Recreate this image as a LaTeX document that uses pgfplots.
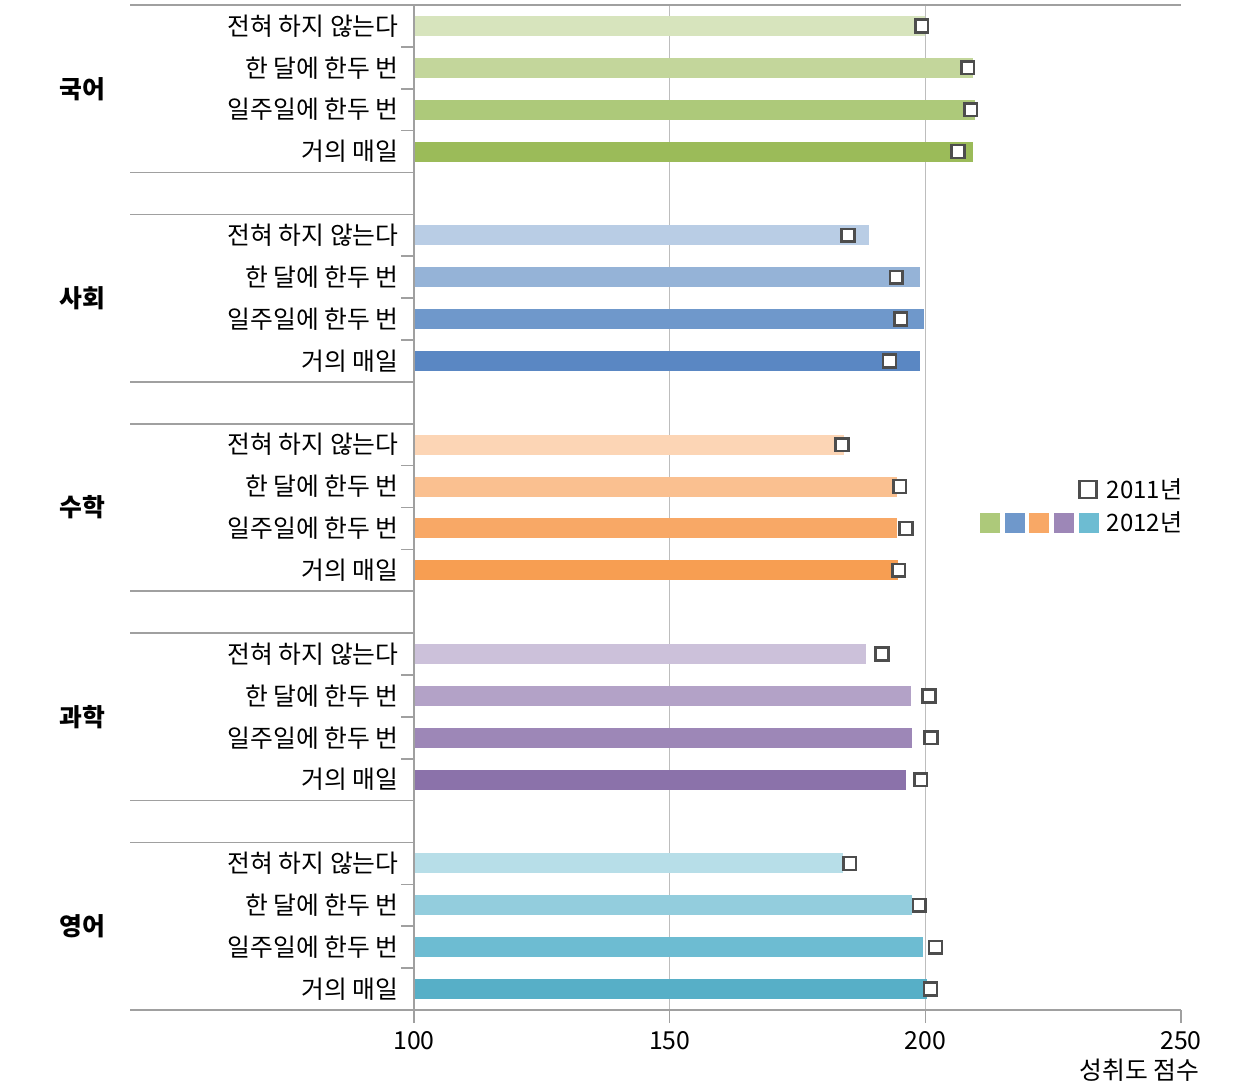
\documentclass[border=0pt]{standalone}
\usepackage{fontspec}
\setmainfont{Noto Sans CJK KR}
\usepackage{pgfplots}
\pgfplotsset{compat=1.18}
\definecolor{gA}{HTML}{D7E4BD}\definecolor{gB}{HTML}{C3D69B}\definecolor{gC}{HTML}{ADC97A}\definecolor{gD}{HTML}{9BBB59}
\definecolor{bA}{HTML}{B9CDE5}\definecolor{bB}{HTML}{95B3D7}\definecolor{bC}{HTML}{6F98CB}\definecolor{bD}{HTML}{5A87C3}
\definecolor{oA}{HTML}{FCD5B5}\definecolor{oB}{HTML}{FAC090}\definecolor{oC}{HTML}{F8A866}\definecolor{oD}{HTML}{F79E52}
\definecolor{pA}{HTML}{CCC1DA}\definecolor{pB}{HTML}{B3A2C7}\definecolor{pC}{HTML}{9D87B7}\definecolor{pD}{HTML}{8B72AA}
\definecolor{aA}{HTML}{B7DEE8}\definecolor{aB}{HTML}{93CDDD}\definecolor{aC}{HTML}{6DBCD2}\definecolor{aD}{HTML}{57AFC7}
\definecolor{linegray}{HTML}{A0A0A0}
\definecolor{gridgray}{HTML}{BDBDBD}
\definecolor{markgray}{HTML}{4D4D4D}
\begin{document}
\fontsize{12.4}{14.8}\selectfont
\begin{tikzpicture}
\begin{axis}[
  name=ax,
  width=383.5pt, height=502.5pt, scale only axis,
  xmin=100, xmax=250, ymin=-0.5, ymax=23.5, y dir=reverse,
  clip mode=individual,
  axis line style={draw=none},
  xtick={100,150,200,250},
  ytick={0.5,1.5,2.5,5.5,6.5,7.5,10.5,11.5,12.5,15.5,16.5,17.5,20.5,21.5,22.5},
  yticklabels={\empty},
  extra y ticks={0,1,2,3,5,6,7,8,10,11,12,13,15,16,17,18,20,21,22,23},
  extra y tick labels={전혀 하지 않는다,한 달에 한두 번,일주일에 한두 번,거의 매일,
    전혀 하지 않는다,한 달에 한두 번,일주일에 한두 번,거의 매일,
    전혀 하지 않는다,한 달에 한두 번,일주일에 한두 번,거의 매일,
    전혀 하지 않는다,한 달에 한두 번,일주일에 한두 번,거의 매일,
    전혀 하지 않는다,한 달에 한두 번,일주일에 한두 번,거의 매일},
  extra y tick style={major tick length=0pt},
  extra x ticks={150,200}, extra x tick labels={\empty},
  extra x tick style={grid=major, major tick length=0pt},
  tick align=outside, major tick length=6.5pt,
  xtick pos=bottom, ytick pos=left,
  tick style={color=linegray, line width=0.8pt},
  grid style={color=gridgray, line width=0.6pt},
  ticklabel style={font=\fontsize{12.4}{14.8}\selectfont},
  yticklabel style={inner sep=0pt, xshift=-7.5pt},
  /pgf/number format/assume math mode=true,
  bar width=0.48,
]
% 2012 bars
\addplot[xbar, bar shift=0pt, fill=gA, draw=none] coordinates {(200.0,0)};
\addplot[xbar, bar shift=0pt, fill=gB, draw=none] coordinates {(209.3,1)};
\addplot[xbar, bar shift=0pt, fill=gC, draw=none] coordinates {(209.8,2)};
\addplot[xbar, bar shift=0pt, fill=gD, draw=none] coordinates {(209.3,3)};
\addplot[xbar, bar shift=0pt, fill=bA, draw=none] coordinates {(188.9,5)};
\addplot[xbar, bar shift=0pt, fill=bB, draw=none] coordinates {(198.9,6)};
\addplot[xbar, bar shift=0pt, fill=bC, draw=none] coordinates {(199.7,7)};
\addplot[xbar, bar shift=0pt, fill=bD, draw=none] coordinates {(198.9,8)};
\addplot[xbar, bar shift=0pt, fill=oA, draw=none] coordinates {(184.1,10)};
\addplot[xbar, bar shift=0pt, fill=oB, draw=none] coordinates {(194.5,11)};
\addplot[xbar, bar shift=0pt, fill=oC, draw=none] coordinates {(194.5,12)};
\addplot[xbar, bar shift=0pt, fill=oD, draw=none] coordinates {(194.7,13)};
\addplot[xbar, bar shift=0pt, fill=pA, draw=none] coordinates {(188.4,15)};
\addplot[xbar, bar shift=0pt, fill=pB, draw=none] coordinates {(197.1,16)};
\addplot[xbar, bar shift=0pt, fill=pC, draw=none] coordinates {(197.3,17)};
\addplot[xbar, bar shift=0pt, fill=pD, draw=none] coordinates {(196.3,18)};
\addplot[xbar, bar shift=0pt, fill=aA, draw=none] coordinates {(183.8,20)};
\addplot[xbar, bar shift=0pt, fill=aB, draw=none] coordinates {(197.3,21)};
\addplot[xbar, bar shift=0pt, fill=aC, draw=none] coordinates {(199.5,22)};
\addplot[xbar, bar shift=0pt, fill=aD, draw=none] coordinates {(200.3,23)};
% 2011 markers
\addplot[only marks, mark=square*, mark size=3.2pt,
  mark options={fill=white, draw=markgray, line width=1.25pt}] coordinates {
  (199.3,0) (208.3,1) (208.9,2) (206.4,3)
  (184.9,5) (194.3,6) (195.2,7) (193.0,8)
  (183.7,10) (195.0,11) (196.2,12) (194.8,13)
  (191.5,15) (200.7,16) (201.1,17) (199.1,18)
  (185.2,20) (198.8,21) (202.0,22) (201.0,23)};
% frame lines
\draw[linegray, line width=0.8pt] (axis cs:44.5,-0.5) -- (axis cs:250,-0.5);
\draw[linegray, line width=0.8pt] (axis cs:44.5,23.5) -- (axis cs:250,23.5);
\draw[linegray, line width=0.8pt] (axis cs:100,-0.5) -- (axis cs:100,23.5);
\pgfplotsinvokeforeach{3.5,4.5,8.5,9.5,13.5,14.5,18.5,19.5}{
  \draw[linegray, line width=0.8pt] (axis cs:44.5,#1) -- (axis cs:100,#1);
}
% group labels
\node[font=\bfseries] at (axis cs:35.1,1.5) {국어};
\node[font=\bfseries] at (axis cs:35.1,6.5) {사회};
\node[font=\bfseries] at (axis cs:35.1,11.5) {수학};
\node[font=\bfseries] at (axis cs:35.1,16.5) {과학};
\node[font=\bfseries] at (axis cs:35.1,21.5) {영어};
% legend
\node[draw=markgray, line width=1.4pt, fill=white, minimum size=8.5pt, inner sep=0pt] at (axis cs:231.8,11.07) {};
\node[anchor=west, inner sep=0pt, font=\fontsize{12}{14}\selectfont] at (axis cs:235.4,11.07) {2011년};
\node[fill=gC, minimum size=10pt, inner sep=0pt] at (axis cs:212.6,11.86) {};
\node[fill=bC, minimum size=10pt, inner sep=0pt] at (axis cs:217.5,11.86) {};
\node[fill=oC, minimum size=10pt, inner sep=0pt] at (axis cs:222.3,11.86) {};
\node[fill=pC, minimum size=10pt, inner sep=0pt] at (axis cs:227.2,11.86) {};
\node[fill=aC, minimum size=10pt, inner sep=0pt] at (axis cs:232.1,11.86) {};
\node[anchor=west, inner sep=0pt, font=\fontsize{12}{14}\selectfont] at (axis cs:235.4,11.86) {2012년};
% axis title
\node[anchor=east, inner sep=0pt, yshift=-30pt] at (axis cs:253.7,23.5) {성취도 점수};
\end{axis}
\pgfresetboundingbox
\path[use as bounding box] ([xshift=-207pt,yshift=-37.5pt]ax.south west) rectangle ([xshift=29.5pt,yshift=2.5pt]ax.north east);
\end{tikzpicture}
\end{document}
